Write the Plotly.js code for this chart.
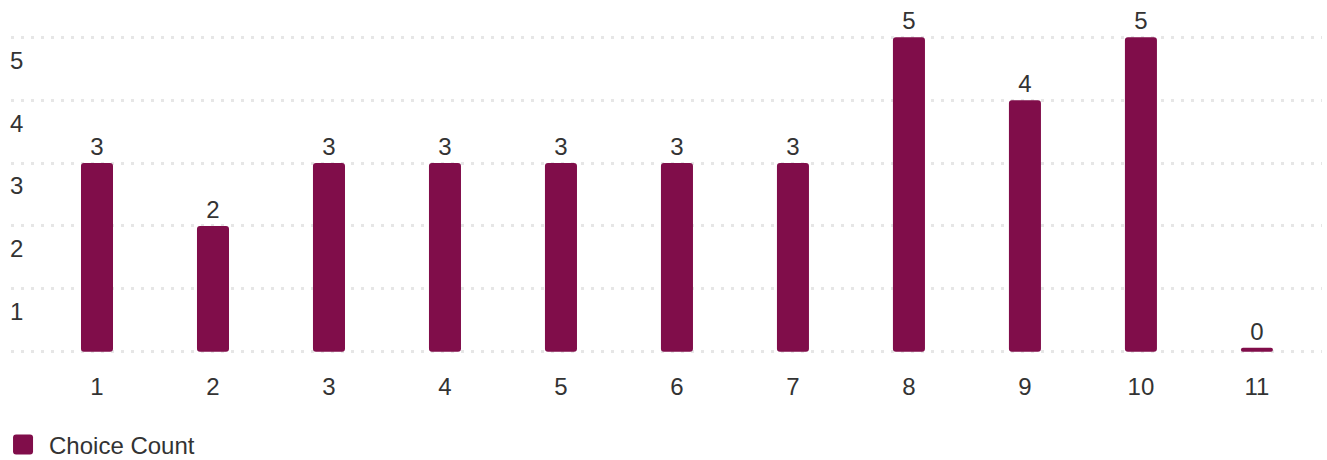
<!DOCTYPE html>
<html>
<head>
<meta charset="utf-8">
<script src="https://cdn.plot.ly/plotly-3.0.1.min.js"></script>
<style>html,body{margin:0;padding:0;background:#fff;}#chart{width:1327px;height:460px;}</style>
</head>
<body>
<div id="chart"></div>
<script>
const categories = ["1","2","3","4","5","6","7","8","9","10","11"];
const choiceCount = [3, 2, 3, 3, 3, 3, 3, 5, 4, 5, 0];
const seriesName = "Choice Count";
const yTickVals = [0, 1, 2, 3, 4, 5];
const yTickText = ["", "1", "2", "3", "4", "5"];

// styling constants
const W = 1327, H = 460;
const yRange = [-0.1, 5.1];
const pxPerUnit = 62.86;
const M = {l: 11, r: 5, t: 31, b: H - 31 - Math.round(pxPerUnit * (yRange[1] - yRange[0]))};
const minBarPx = 4; // minimum visible bar length (like minBarLength)
const minBarVal = minBarPx / pxPerUnit;
const plotted = choiceCount.map(v => Math.max(v, minBarVal));

const barColor = "#800d4a";
const textColor = "#333333";
const fontFam = "'Liberation Sans', Arial, sans-serif";

const trace = {
  type: "bar",
  name: seriesName,
  x: categories,
  y: plotted,
  base: 0,
  text: choiceCount.map(String),
  textposition: "outside",
  cliponaxis: false,
  textfont: {family: fontFam, size: 24, color: textColor},
  marker: {color: barColor, cornerradius: 3, line: {width: 0}},
  hoverinfo: "skip",
  showlegend: true
};

const layout = {
  width: W, height: H,
  margin: M,
  paper_bgcolor: "#ffffff",
  plot_bgcolor: "#ffffff",
  font: {family: fontFam, size: 24, color: textColor},
  bargap: 0.724,
  showlegend: true,
  legend: {
    orientation: "h",
    x: -0.0015,
    xanchor: "left",
    yref: "container",
    y: 15 / H,
    yanchor: "middle",
    font: {family: fontFam, size: 24, color: textColor},
    bgcolor: "rgba(0,0,0,0)"
  },
  xaxis: {
    type: "category",
    range: [-0.5 - 28 / 116, 10.561],
    showgrid: false,
    zeroline: false,
    showline: false,
    ticks: "",
    ticklen: 0,
    tickfont: {family: fontFam, size: 24, color: textColor},
    ticklabelstandoff: 12,
    fixedrange: true
  },
  yaxis: {
    range: yRange,
    tickvals: yTickVals,
    ticktext: yTickText,
    showgrid: true,
    gridcolor: "#e6e6e6",
    gridwidth: 3,
    griddash: "3px,7px",
    zeroline: false,
    showline: false,
    ticks: "",
    ticklabelposition: "inside",
    ticklabelshift: 23,
    ticklabelstandoff: -4,
    tickfont: {family: fontFam, size: 24, color: textColor},
    fixedrange: true
  }
};

function roundedSquare(cx, s, r) {
  const h = s / 2, l = cx - h, R = cx + h;
  return "M" + (l + r) + "," + (-h) + "H" + (R - r) + "A" + r + "," + r + " 0 0 1 " + R + "," + (-h + r) +
    "V" + (h - r) + "A" + r + "," + r + " 0 0 1 " + (R - r) + "," + h +
    "H" + (l + r) + "A" + r + "," + r + " 0 0 1 " + l + "," + (h - r) +
    "V" + (-h + r) + "A" + r + "," + r + " 0 0 1 " + (l + r) + "," + (-h) + "Z";
}

Plotly.newPlot("chart", [trace], layout, {displayModeBar: false, staticPlot: true}).then(function(gd){
  const paths = gd.querySelectorAll(".legend .legendpoints path");
  paths.forEach(function(p){
    p.setAttribute("d", roundedSquare(-6, 20, 3));
  });
});
</script>
</body>
</html>
